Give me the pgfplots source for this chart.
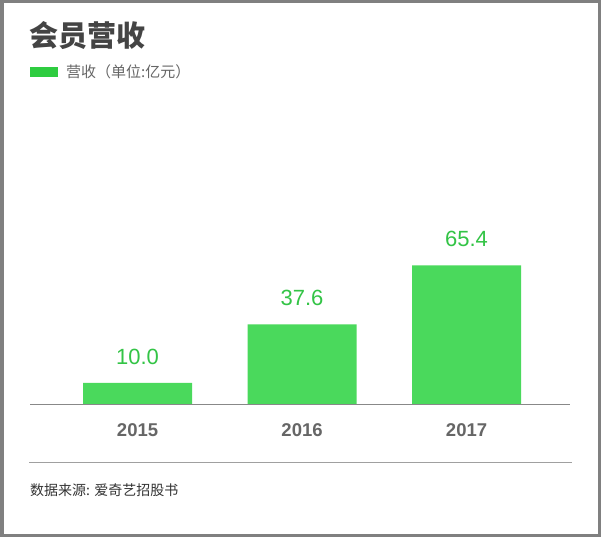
\documentclass[border=0pt]{standalone}
\usepackage{pgfplots}
\pgfplotsset{compat=1.18}
\usepackage{fontspec}
\setmainfont{Liberation Sans}
\newfontfamily\cjk{Noto Sans CJK SC}
\definecolor{barg}{RGB}{74,217,92}
\definecolor{legg}{RGB}{46,204,64}
\definecolor{valg}{RGB}{51,196,70}
\definecolor{framec}{RGB}{128,128,128}
\definecolor{titlec}{RGB}{68,68,68}
\definecolor{yearc}{RGB}{102,102,102}
\definecolor{linec}{RGB}{136,136,136}
\begin{document}
\begin{tikzpicture}[x=1pt,y=1pt]
\path[use as bounding box] (0,0) rectangle (601,537);
\fill[white] (0,0) rectangle (601,537);
\draw[framec, line width=3.5pt] (1.75,1.75) rectangle (599.25,535.25);
% title
\node[anchor=west, inner sep=0pt, text=titlec, font=\cjk\bfseries\fontsize{29}{32}\selectfont] at (29,501) {会员营收};
% legend
\fill[legg] (30,460) rectangle (58,470);
\node[anchor=west, inner sep=0pt, text=yearc, font=\cjk\fontsize{15}{17}\selectfont] at (66,465) {营收（单位:亿元）};
\begin{axis}[
  at={(30pt,133pt)}, anchor=south west,
  scale only axis, width=540pt, height=204pt,
  xmin=-0.654, xmax=2.629, ymin=0, ymax=96.2,
  axis x line=bottom, axis y line=none,
  axis line style={draw=linec, line width=0.9pt, -},
  ybar, bar width=109pt, bar shift=0pt,
  xtick={0,1,2}, xticklabels={2015,2016,2017},
  ytick=\empty, major tick length=0pt,
  xticklabel style={anchor=center, yshift=-26pt, text=yearc, font=\bfseries\fontsize{18.5}{20}\selectfont},
  nodes near coords={\pgfmathprintnumber[fixed,fixed zerofill,precision=1]{\pgfplotspointmeta}},
  every node near coord/.style={anchor=center, yshift=26pt, text=valg, font=\fontsize{22}{24}\selectfont, /pgf/number format/assume math mode=true},
  clip=false,
]
\addplot[fill=barg, draw=none] coordinates {(0,10.0) (1,37.6) (2,65.4)};
\end{axis}
% bottom separator and source
\draw[linec!80, line width=0.9pt] (29,75) -- (572,75);
\node[anchor=west, inner sep=0pt, text=black!80, font=\cjk\fontsize{14}{16}\selectfont] at (30,47) {数据来源: 爱奇艺招股书};
\end{tikzpicture}
\end{document}
